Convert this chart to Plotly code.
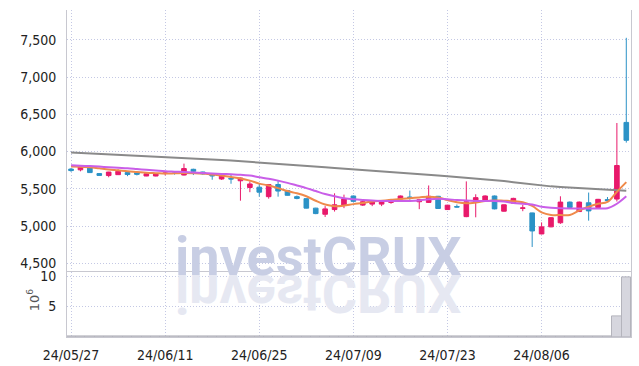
import base64
import plotly.graph_objects as go

dates = ["2024-05-27","2024-05-28","2024-05-29","2024-05-30","2024-05-31",
         "2024-06-03","2024-06-04","2024-06-05","2024-06-07","2024-06-10",
         "2024-06-11","2024-06-12","2024-06-13","2024-06-14","2024-06-17",
         "2024-06-18","2024-06-19","2024-06-20","2024-06-21","2024-06-24",
         "2024-06-25","2024-06-26","2024-06-27","2024-06-28","2024-07-01",
         "2024-07-02","2024-07-03","2024-07-04","2024-07-05","2024-07-08",
         "2024-07-09","2024-07-10","2024-07-11","2024-07-12","2024-07-15",
         "2024-07-16","2024-07-17","2024-07-18","2024-07-19","2024-07-22",
         "2024-07-23","2024-07-24","2024-07-25","2024-07-26","2024-07-29",
         "2024-07-30","2024-07-31","2024-08-01","2024-08-02","2024-08-05",
         "2024-08-06","2024-08-07","2024-08-08","2024-08-09","2024-08-12",
         "2024-08-13","2024-08-14","2024-08-16","2024-08-19","2024-08-20"]

open_ = [5765,5755,5785,5705,5678,5690,5718,5715,5672,5672,
         5705,5712,5685,5762,5726,5700,5632,5640,5608,5518,
         5522,5395,5558,5477,5395,5368,5241,5159,5222,5277,
         5404,5282,5295,5295,5318,5363,5390,5327,5318,5400,
         5222,5262,5127,5327,5341,5404,5200,5309,5238,5177,
         4895,4990,5045,5322,5195,5313,5250,5355,5363,6391]
high = [5780,5795,5805,5712,5728,5760,5722,5725,5708,5708,
        5740,5730,5838,5770,5730,5705,5680,5690,5650,5600,
        5576,5565,5613,5485,5410,5372,5245,5268,5440,5422,
        5410,5340,5335,5335,5360,5410,5477,5360,5545,5405,
        5285,5290,5600,5427,5412,5410,5290,5380,5285,5180,
        5050,5120,5400,5330,5330,5450,5365,5390,6383,7526]
low = [5728,5735,5715,5678,5655,5688,5670,5680,5670,5668,
       5680,5690,5680,5685,5690,5622,5620,5568,5341,5455,
       5395,5368,5395,5410,5360,5238,5160,5123,5195,5241,
       5320,5270,5268,5268,5300,5360,5354,5227,5310,5230,
       5218,5250,5120,5118,5335,5225,5195,5305,5200,4720,
       4890,4985,5030,5245,5190,5073,5245,5330,5330,6120]
close = [5745,5790,5718,5680,5725,5735,5692,5695,5702,5705,
         5712,5706,5772,5735,5700,5672,5670,5632,5645,5565,
         5455,5558,5470,5413,5372,5241,5168,5231,5286,5363,
         5332,5327,5325,5325,5354,5404,5380,5354,5400,5236,
         5281,5256,5327,5382,5404,5231,5286,5372,5244,4935,
         4990,5113,5322,5250,5322,5204,5359,5345,5813,6151]

volume_m = [0.05,0.04,0.05,0.03,0.04,0.04,0.03,0.03,0.03,0.03,
            0.03,0.03,0.06,0.04,0.03,0.03,0.03,0.04,0.06,0.05,
            0.05,0.06,0.05,0.04,0.03,0.05,0.05,0.05,0.06,0.05,
            0.04,0.03,0.03,0.03,0.03,0.04,0.05,0.04,0.06,0.05,
            0.04,0.03,0.07,0.05,0.04,0.05,0.04,0.04,0.04,0.10,
            0.06,0.05,0.07,0.04,0.04,0.06,0.04,0.04,3.3,9.8]

ma_short = [5800,5795,5790,5775,5760,5748,5735,5725,5715,5710,
            5705,5708,5712,5710,5705,5693,5680,5660,5640,5610,
            5570,5545,5510,5470,5440,5400,5340,5290,5268,5275,
            5295,5310,5330,5340,5352,5365,5375,5385,5395,5385,
            5350,5320,5305,5315,5335,5345,5340,5335,5320,5270,
            5185,5150,5148,5150,5210,5260,5300,5325,5460,5590]
ma_mid = [5815,5810,5805,5798,5790,5782,5775,5765,5755,5745,
          5735,5730,5725,5718,5712,5706,5700,5695,5690,5678,
          5655,5636,5610,5580,5545,5510,5470,5430,5400,5375,
          5360,5350,5342,5338,5336,5336,5338,5345,5360,5368,
          5360,5350,5342,5338,5338,5338,5330,5310,5300,5290,
          5260,5245,5238,5236,5236,5236,5236,5240,5300,5400]
ma_long = [5988,5982,5977,5971,5966,5960,5954,5948,5941,5935,
           5928,5921,5914,5908,5901,5895,5887,5879,5871,5863,
           5855,5846,5837,5828,5819,5810,5800,5790,5780,5770,
           5760,5751,5742,5733,5724,5715,5706,5697,5688,5679,
           5670,5660,5650,5640,5630,5620,5604,5588,5572,5556,
           5540,5533,5526,5519,5512,5505,5497,5490,5482,5475]

tick_dates = dates[::10]
tick_text = [d[2:4] + "/" + d[5:7] + "/" + d[8:10] for d in tick_dates]

PINK = "#e8196b"
BLUE = "#2b92c6"
GRID = "#c4c8e4"
DASH = "1px,2px"
FONT = "Liberation Sans Narrow, DejaVu Sans Condensed, Roboto, sans-serif"

fig = go.Figure()

fig.add_trace(go.Bar(x=dates, y=volume_m, xaxis="x", yaxis="y2",
                     marker=dict(color="#d6d6de", line=dict(color="#b4b4bc", width=1)),
                     showlegend=False, hoverinfo="skip"))

fig.add_trace(go.Scatter(x=dates, y=ma_long, mode="lines", xaxis="x", yaxis="y",
                         line=dict(color="#8a8a8a", width=2), showlegend=False))
fig.add_trace(go.Scatter(x=dates, y=ma_short, mode="lines", xaxis="x", yaxis="y",
                         line=dict(color="#ef8a4b", width=2, shape="spline"), showlegend=False))
fig.add_trace(go.Scatter(x=dates, y=ma_mid, mode="lines", xaxis="x", yaxis="y",
                         line=dict(color="#c95ee8", width=2, shape="spline"), showlegend=False))

fig.add_trace(go.Candlestick(x=dates, open=open_, high=high, low=low, close=close,
                             xaxis="x", yaxis="y",
                             increasing=dict(line=dict(color=PINK, width=1), fillcolor=PINK),
                             decreasing=dict(line=dict(color=BLUE, width=1), fillcolor=BLUE),
                             whiskerwidth=0, showlegend=False))

L, R, T, B = 66.7, 8.3, 9.5, 29.0
W, H = 639, 366
pw, ph = W - L - R, H - T - B
vol_top = (337 - 272.3) / ph

fig.update_layout(
    width=W, height=H,
    margin=dict(l=L, r=R, t=T, b=B, pad=0, autoexpand=False),
    paper_bgcolor="white", plot_bgcolor="white",
    font=dict(family=FONT, size=14, color="#222"),
    showlegend=False,
    xaxis=dict(type="category", range=[-0.43, 59.5], anchor="y2", automargin=False,
               tickvals=tick_dates, ticktext=tick_text,
               showgrid=True, gridcolor=GRID, griddash=DASH, gridwidth=1,
               showline=True, linecolor="#c8c8d0", mirror=True, ticks="",
               ticklabelstandoff=5, rangeslider=dict(visible=False),
               tickfont=dict(size=14, color="#222")),
    yaxis=dict(domain=[vol_top, 1], range=[4379, 7899], anchor="x", automargin=False,
               tickvals=[4500, 5000, 5500, 6000, 6500, 7000, 7500],
               tickformat=",d", showgrid=True, gridcolor=GRID, griddash=DASH,
               showline=True, linecolor="#c8c8d0", mirror=True, ticks="",
               ticklabelstandoff=7, zeroline=False,
               tickfont=dict(size=14, color="#222")),
    yaxis2=dict(domain=[0, vol_top], range=[0, 10.6], anchor="x", automargin=False,
                tickvals=[5, 10], showgrid=True, gridcolor=GRID, griddash=DASH,
                showline=True, linecolor="#c8c8d0", mirror=True, ticks="",
                ticklabelstandoff=7, zeroline=False,
                tickfont=dict(size=14, color="#222")),
    bargap=0,
)

def px_x(v):
    return (v - L) / pw

def px_y(v):
    return (H - B - v) / ph

# watermark
fig.add_annotation(text="<b>investCRUX</b>", xref="paper", yref="paper",
                   x=px_x(318), y=px_y(256), xanchor="center", yanchor="middle",
                   showarrow=False,
                   font=dict(family="Roboto, Liberation Sans, sans-serif", size=54, color="#c8cee4"))

svg = ("<svg xmlns='http://www.w3.org/2000/svg' width='340' height='60' viewBox='0 0 340 60'>"
       "<text x='170' y='0' transform='scale(1,-1)' text-anchor='middle' "
       "font-family='Roboto, Liberation Sans, sans-serif' font-weight='bold' font-size='54' "
       "fill='#e6e8f2'>investCRUX</text></svg>")
src = "data:image/svg+xml;base64," + base64.b64encode(svg.encode()).decode()
fig.add_layout_image(source=src, xref="paper", yref="paper",
                     x=px_x(318 - 170), y=px_y(275), sizex=340 / pw, sizey=60 / ph,
                     xanchor="left", yanchor="top", sizing="stretch", layer="above")

fig.add_annotation(text="10<sup>6</sup>", xref="paper", yref="paper",
                   x=px_x(33), y=px_y(300), xanchor="center", yanchor="middle",
                   textangle=-90, showarrow=False,
                   font=dict(family="DejaVu Sans, sans-serif", size=13, color="#555"))

fig.write_html("out.html")
